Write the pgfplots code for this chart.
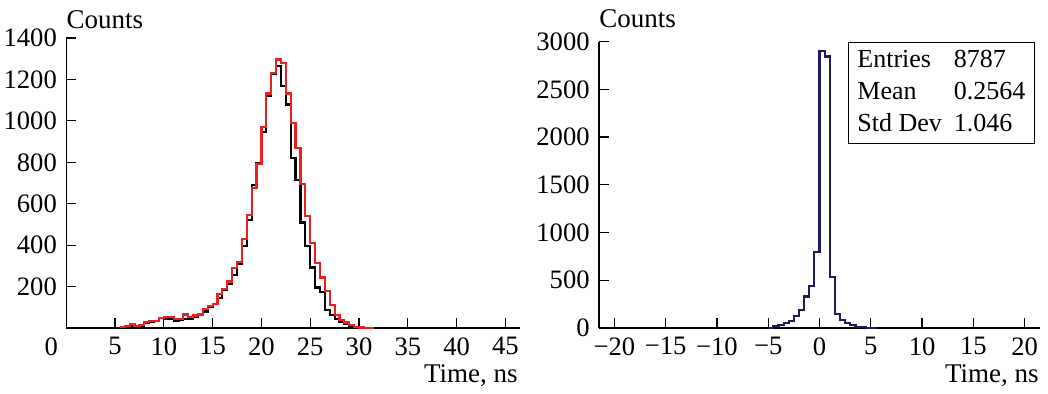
\documentclass[border=0pt]{standalone}
\usepackage{fontspec}
\setmainfont{Liberation Serif}
\usepackage{pgfplots}
\pgfplotsset{compat=1.18}
\definecolor{hred}{RGB}{232,32,32}
\definecolor{hnavy}{RGB}{28,28,96}
\begin{document}
\fontsize{13.5}{16}\selectfont
\begin{tikzpicture}
\path[use as bounding box] (0,0) rectangle (524pt,196.5pt);
\pgfplotsset{
  every axis/.append style={
    scale only axis,
    axis x line=bottom, axis y line=left,
    axis line style={-, line width=0.6pt},
    tick align=inside,
    major tick length=5pt,
    every tick/.style={line width=0.6pt, black},
    /pgf/number format/assume math mode=true,
    /pgf/number format/1000 sep={},
    ticklabel style={font=\fontsize{13.3}{16}\selectfont},
    clip=false,
  }
}
\begin{axis}[
  at={(33.125pt,32.5pt)}, anchor=south west,
  width=226.9pt, height=145pt,
  xmin=0, xmax=46.5, ymin=0, ymax=1400,
  xtick={5,10,...,45},
  extra x ticks={0},
  extra x tick style={major tick length=0pt, xticklabel style={xshift=-7.5pt}},
  ytick={200,400,...,1400},
]
\addplot[black, line width=1.1pt, const plot mark left] coordinates {
(5.5,2) (6.0,5) (6.5,10) (7.0,5) (7.5,8) (8.0,25) (8.5,30) (9.0,35) (9.5,50)
(10.0,45) (10.5,42) (11.0,35) (11.5,38) (12.0,45) (12.5,45) (13.0,55) (13.5,65)
(14.0,80) (14.5,100) (15.0,115) (15.5,145) (16.0,185) (16.5,215) (17.0,255)
(17.5,310) (18.0,395) (18.5,520) (19.0,690) (19.5,795) (20.0,945) (20.5,1120)
(21.0,1225) (21.5,1263) (22.0,1167) (22.5,1079) (23.0,819) (23.5,714) (24.0,509)
(24.5,397) (25.0,292) (25.5,196) (26.0,172) (26.5,88) (27.0,64) (27.5,45)
(28.0,30) (28.5,20) (29.0,10) (29.5,4) (30.0,1) (30.5,0) (31.0,0) (31.5,0)
};
\addplot[hred, line width=1.1pt, const plot mark left] coordinates {
(5.5,3) (6.0,10) (6.5,20) (7.0,10) (7.5,15) (8.0,30) (8.5,35) (9.0,35) (9.5,50)
(10.0,55) (10.5,55) (11.0,45) (11.5,45) (12.0,65) (12.5,55) (13.0,60) (13.5,65)
(14.0,90) (14.5,105) (15.0,115) (15.5,165) (16.0,190) (16.5,225) (17.0,290)
(17.5,320) (18.0,430) (18.5,545) (19.0,674) (19.5,790) (20.0,971) (20.5,1132)
(21.0,1231) (21.5,1296) (22.0,1281) (22.5,1132) (23.0,990) (23.5,870) (24.0,694)
(24.5,541) (25.0,412) (25.5,313) (26.0,244) (26.5,180) (27.0,112) (27.5,64)
(28.0,40) (28.5,27) (29.0,13) (29.5,5) (30.0,2) (30.5,0) (31.0,0) (31.5,0)
};
\node[anchor=base west, inner sep=0pt] at ([yshift=5pt]axis description cs:0,1) {Counts};
\node[anchor=base east, inner sep=0pt] at ([yshift=-27pt,xshift=-1pt]axis description cs:1,0) {Time, ns};
\end{axis}
\begin{axis}[
  at={(299.5pt,32.5pt)}, anchor=south west,
  width=220.5pt, height=143.2pt,
  xmin=-21.5, xmax=21.5, ymin=0, ymax=3000,
  xtick={-20,-15,...,20},
  xticklabels={−20,−15,−10,−5,0,5,10,15,20},
  ytick={0,500,...,3000},
]
\addplot[hnavy, line width=1.1pt, const plot mark left] coordinates {
(-5.0,3) (-4.5,17) (-4.0,31) (-3.5,52) (-3.0,77) (-2.5,122) (-2.0,192) (-1.5,331)
(-1.0,436) (-0.5,792) (0.0,2905) (0.5,2843) (1.0,534) (1.5,146) (2.0,87) (2.5,52)
(3.0,28) (3.5,12) (4.0,8) (4.5,3) (5.0,1) (5.5,0)
};
\node[anchor=base west, inner sep=0pt] at ([yshift=7.3pt]axis description cs:0,1) {Counts};
\node[anchor=base east, inner sep=0pt] at ([yshift=-27pt,xshift=-0.5pt]axis description cs:1,0) {Time, ns};
\node[draw, line width=0.6pt, anchor=north east, inner xsep=4.5pt, inner ysep=1.3pt, fill=white, font=\fontsize{13}{16}\selectfont]
  at ([xshift=-2.5pt]axis description cs:1,1)
  {\begin{tabular}{@{}l@{\hspace{6pt}}l@{}}Entries & 8787\\ Mean & 0.2564\\ Std Dev & 1.046\end{tabular}};
\end{axis}
\end{tikzpicture}
\end{document}
